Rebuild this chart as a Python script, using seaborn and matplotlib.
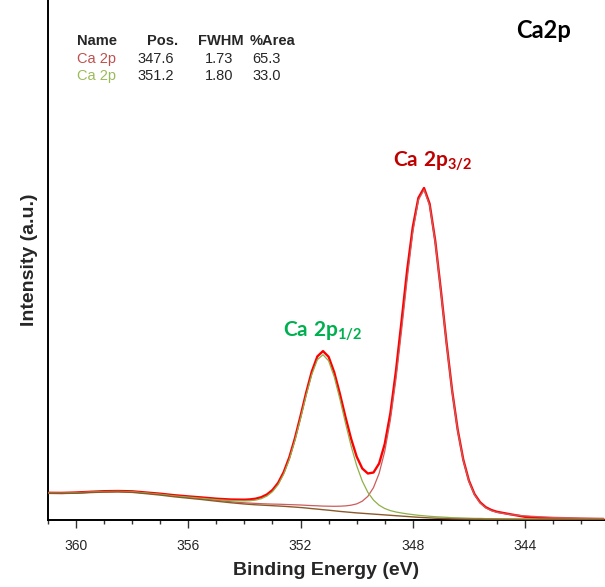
import matplotlib
matplotlib.use("Agg")
import matplotlib.pyplot as plt
from matplotlib.ticker import MultipleLocator
import pandas as pd
import seaborn as sns

# Ca 2p spectrum (intensity in arbitrary units)
energy = [361.0, 360.5, 360.0, 359.5, 359.0, 358.5, 358.0, 357.5, 357.0, 356.5,
          356.0, 355.5, 355.0, 354.5, 354.0,
          353.8, 353.6, 353.4, 353.2, 353.0, 352.8, 352.6, 352.4, 352.2, 352.0,
          351.8, 351.6, 351.4, 351.2, 351.0, 350.8, 350.6, 350.4, 350.2, 350.0,
          349.8, 349.6, 349.4, 349.2, 349.0, 348.8, 348.6, 348.4, 348.2, 348.0,
          347.8, 347.6, 347.4, 347.2, 347.0, 346.8, 346.6, 346.4, 346.2, 346.0,
          345.8, 345.6, 345.4, 345.2, 345.0,
          344.5, 344.0, 343.5, 343.0, 342.0, 341.2]

counts = [27.2, 27.1, 27.5, 28.2, 28.8, 29.0, 28.7, 27.5, 26.3, 24.8,
          23.6, 22.5, 21.3, 20.5, 20.3,
          20.6, 21.3, 22.8, 25.5, 30.0, 37.1, 47.9, 62.7, 81.8, 104.0,
          127.3, 148.4, 163.6, 168.9, 163.2, 147.7, 126.4, 103.1, 81.4, 63.4,
          51.5, 46.5, 47.5, 56.5, 76.0, 106.5, 149.0, 199.0, 250.0, 293.0,
          322.1, 332.0, 316.2, 279.2, 230.0, 177.9, 129.9, 90.3, 60.3, 39.4,
          25.9, 17.7, 12.8, 10.0, 8.2,
          5.6, 3.2, 2.2, 1.6, 1.0, 0.7]

background = [26.6, 26.5, 26.8, 27.4, 27.9, 28.1, 27.6, 26.3, 24.9, 23.2,
              21.8, 20.4, 18.8, 17.3, 16.0,
              15.6, 15.2, 14.9, 14.6, 14.3, 14.0, 13.7, 13.3, 12.9, 12.5,
              12.0, 11.4, 10.9, 10.3, 9.8, 9.2, 8.6, 8.1, 7.6, 7.1,
              6.7, 6.3, 5.9, 5.5, 5.1, 4.7, 4.3, 3.9, 3.5, 3.1,
              2.7, 2.4, 2.1, 1.8, 1.6, 1.4, 1.2, 1.1, 1.0, 0.9,
              0.8, 0.8, 0.7, 0.7, 0.7,
              0.6, 0.6, 0.5, 0.5, 0.5, 0.5]

# fitted components, height above background
peak_32 = [0.3, 0.3, 0.3, 0.4, 0.4, 0.4, 0.5, 0.5, 0.6, 0.6,
           0.7, 0.8, 0.9, 1.0, 1.2,
           1.3, 1.4, 1.4, 1.5, 1.6, 1.8, 1.9, 2.1, 2.3, 2.5,
           2.7, 3.0, 3.3, 3.6, 4.0, 4.5, 5.2, 6.0, 7.2, 9.0,
           12.1, 17.4, 26.5, 41.1, 63.5, 95.1, 136.6, 185.6, 237.5, 284.6,
           317.4, 327.8, 312.5, 275.9, 227.0, 175.2, 127.6, 88.1, 58.3, 37.6,
           24.3, 16.1, 11.4, 8.6, 6.9,
           4.7, 3.5, 2.8, 2.2, 1.5, 1.2]

peak_12 = [0.3, 0.3, 0.4, 0.4, 0.5, 0.5, 0.6, 0.7, 0.8, 0.9,
           1.1, 1.3, 1.6, 2.2, 3.1,
           3.7, 4.7, 6.4, 9.3, 14.0, 21.3, 32.2, 47.3, 66.6, 89.0,
           112.6, 134.0, 149.4, 155.0, 149.4, 134.0, 112.6, 89.0, 66.6, 47.3,
           32.2, 21.3, 14.0, 9.3, 6.4, 4.7, 3.7, 3.1, 2.6, 2.3,
           2.0, 1.8, 1.6, 1.5, 1.4, 1.3, 1.1, 1.1, 1.0, 0.9,
           0.8, 0.8, 0.7, 0.7, 0.6,
           0.6, 0.5, 0.5, 0.4, 0.4, 0.3]

# peak table
tbl_header = ["Name", "Pos.", "FWHM", "%Area"]
tbl_names = ["Ca 2p", "Ca 2p"]
tbl_pos = ["347.6", "351.2"]
tbl_fwhm = ["1.73", "1.80"]
tbl_area = ["65.3", "33.0"]
tbl_colors = ["#c0504d", "#9bbb59"]

df = pd.DataFrame({"energy": energy, "counts": counts, "background": background})
df["comp_32"] = df["background"] + pd.Series(peak_32)
df["comp_12"] = df["background"] + pd.Series(peak_12)

sns.set_style("white")
plt.rcParams["font.family"] = ["Liberation Sans", "DejaVu Sans"]
plt.rcParams["mathtext.fontset"] = "custom"
plt.rcParams["mathtext.rm"] = "Lato:bold"
plt.rcParams["mathtext.it"] = "Lato:bold"
plt.rcParams["mathtext.bf"] = "Lato:bold"

W, H = 605, 587
fig = plt.figure(figsize=(W / 100, H / 100), dpi=100)
ax = fig.add_axes([48 / W, 67 / H, 557 / W, 520 / H])

sns.lineplot(data=df, x="energy", y="counts", color="#ff0000", linewidth=1.7, ax=ax, zorder=3)
sns.lineplot(data=df, x="energy", y="comp_32", color="#cd5c5c", linewidth=0.9, ax=ax, zorder=4)
sns.lineplot(data=df, x="energy", y="comp_12", color="#8db04a", linewidth=0.9, ax=ax, zorder=4)
sns.lineplot(data=df, x="energy", y="background", color="#8b5a2b", linewidth=1.0, ax=ax, zorder=5)

ax.set_xlim(361.0, 341.15)
ax.set_ylim(0, 520)
ax.set_yticks([])
ax.xaxis.set_major_locator(MultipleLocator(4))
ax.xaxis.set_minor_locator(MultipleLocator(1))
ax.tick_params(axis="x", which="major", direction="out", length=6, width=1, color="#333333",
               labelsize=10, pad=8, bottom=True)
ax.tick_params(axis="x", which="minor", direction="out", length=3.2, width=1, color="#333333",
               bottom=True)
for s in ["top", "right"]:
    ax.spines[s].set_visible(False)
for s in ["left", "bottom"]:
    ax.spines[s].set_linewidth(1.4)
    ax.spines[s].set_color("black")

ax.set_xlabel("Binding Energy (eV)", fontsize=14, fontweight="bold", labelpad=6)
ax.set_ylabel("Intensity (a.u.)", fontsize=14, fontweight="bold", labelpad=7)

ax.text(348.71, 353, r"$\mathrm{Ca\ 2p_{3/2}}$", color="#c00000", fontsize=15,
        ha="left", va="baseline")
ax.text(352.61, 183.3, r"$\mathrm{Ca\ 2p_{1/2}}$", color="#00b050", fontsize=15,
        ha="left", va="baseline")

fig.text(516 / W, 1 - 38.5 / H, "Ca2p", family="Lato", fontweight="bold", fontsize=17,
         ha="left", va="baseline", color="black")

# peak table in the upper left corner
col_x = [76.7, 146.7, 198.3, 250.0]
val_x = [76.7, 137.3, 205.0, 252.7]
for cx, h in zip(col_x, tbl_header):
    fig.text(cx / W, 1 - 45 / H, h, fontsize=10.5, fontweight="bold", ha="left", va="baseline")
for i in range(len(tbl_names)):
    yb = 1 - (63 + 17 * i) / H
    fig.text(val_x[0] / W, yb, tbl_names[i], fontsize=10.5, color=tbl_colors[i], ha="left", va="baseline")
    fig.text(val_x[1] / W, yb, tbl_pos[i], fontsize=10.5, ha="left", va="baseline")
    fig.text(val_x[2] / W, yb, tbl_fwhm[i], fontsize=10.5, ha="left", va="baseline")
    fig.text(val_x[3] / W, yb, tbl_area[i], fontsize=10.5, ha="left", va="baseline")

fig.savefig("out.png", dpi=100)
